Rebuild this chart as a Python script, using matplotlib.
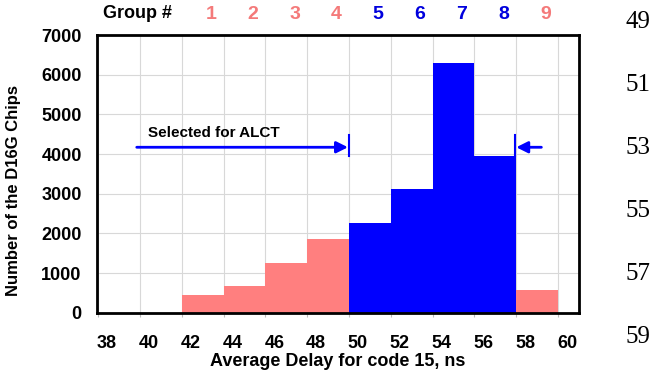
import matplotlib.pyplot as plt
from matplotlib.transforms import ScaledTranslation

plt.rcParams['font.family'] = ['Liberation Sans', 'DejaVu Sans']

# Histogram of average delay (bin edges at even ns values)
bin_left = [42, 44, 46, 48, 50, 52, 54, 56, 58]
counts = [440, 680, 1260, 1860, 2260, 3110, 6290, 3950, 570]
groups = ['1', '2', '3', '4', '5', '6', '7', '8', '9']
selected = [False, False, False, False, True, True, True, True, False]
x_ticks = list(range(38, 61, 2))
y_ticks = list(range(0, 7001, 1000))
page_lines = ['49', '51', '53', '55', '57', '59']

pink = '#FF7F7F'
pink_text = '#F47A7A'
blue = '#0000FF'
blue_text = '#0000DD'

fig = plt.figure(figsize=(6.65, 3.78), dpi=100)
ax = fig.add_axes([0.1459, 0.1728, 0.7248, 0.7346])

colors = [blue if s else pink for s in selected]
ax.bar(bin_left, counts, width=2, align='edge', color=colors, edgecolor='none', zorder=2)

ax.set_xlim(37.95, 61.0)
ax.set_ylim(0, 7000)
ax.set_xticks(x_ticks)
ax.set_yticks(y_ticks)
ax.grid(True, color='#D8D8D8', linewidth=0.8, zorder=0)
ax.tick_params(axis='both', length=3, width=0.8, color='#BBBBBB', labelsize=13)
ax.tick_params(axis='y', length=0, pad=11)
ax.tick_params(axis='x', pad=13)
for lbl in ax.get_xticklabels() + ax.get_yticklabels():
    lbl.set_fontweight('bold')
# labels in the original sit a little right of the gridlines
for lbl in ax.get_xticklabels():
    lbl.set_transform(lbl.get_transform() + ScaledTranslation(0.09, 0, fig.dpi_scale_trans))
for sp in ax.spines.values():
    sp.set_linewidth(2)
    sp.set_color('black')
    sp.set_zorder(3)

ax.set_xlabel('Average Delay for code 15, ns', fontsize=13, fontweight='bold', labelpad=1)
ax.set_ylabel('Number of the D16G Chips', fontsize=12, fontweight='bold')
ax.yaxis.set_label_coords(-0.157, 0.44)

# group numbers above the plot
ax.text(39.86, 7330, 'Group #', fontsize=13, fontweight='bold', ha='center', va='bottom')
for b, g, s in zip(bin_left, groups, selected):
    ax.text(b + 1.4, 7300, g, fontsize=14, fontweight='bold', ha='center', va='bottom',
            color=blue_text if s else pink_text, clip_on=False)

# selection arrows
ax.annotate('', xy=(49.95, 4170), xytext=(39.85, 4170),
            arrowprops=dict(arrowstyle='-|>', color=blue, lw=2, mutation_scale=17,
                            shrinkA=0, shrinkB=0), zorder=4)
ax.annotate('', xy=(58.0, 4170), xytext=(59.2, 4170),
            arrowprops=dict(arrowstyle='-|>', color=blue, lw=2, mutation_scale=17,
                            shrinkA=0, shrinkB=0), zorder=4)
ax.plot([50, 50], [3960, 4480], color=blue, lw=1.5, zorder=4)
ax.plot([57.95, 57.95], [3960, 4480], color=blue, lw=1.5, zorder=4)
ax.text(40.4, 4530, 'Selected for ALCT', fontsize=11, fontweight='bold', va='center')

# line numbers of the source page
for i, t in enumerate(page_lines):
    fig.text(0.978, 1 - (22 + 63 * i) / 378, t, fontsize=18, family='Liberation Serif',
             ha='right', va='center')

fig.savefig('out.png', dpi=100)
